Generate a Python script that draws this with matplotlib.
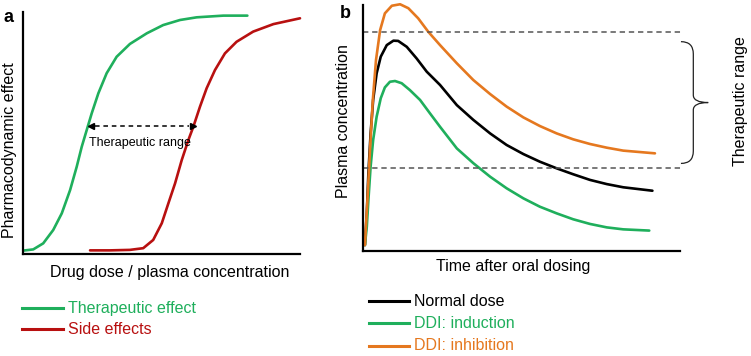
import numpy as np
import matplotlib.pyplot as plt
from matplotlib.path import Path
from matplotlib.patches import PathPatch

plt.rcParams['font.family'] = ['Liberation Sans', 'DejaVu Sans']

# ---------- data ----------

# panel a: dose-response (dose, effect)
green_x = [0.01, 0.37, 0.73, 1.09, 1.40, 1.70, 1.94, 2.12, 2.30, 2.48, 2.72, 3.02, 3.38, 3.86,
           4.47, 5.06, 5.67, 6.27, 7.23, 8.10]
green_y = [0.14, 0.19, 0.44, 0.99, 1.68, 2.64, 3.61, 4.43, 5.12, 5.81, 6.64, 7.47, 8.15, 8.68,
           9.12, 9.46, 9.67, 9.78, 9.85, 9.85]
red_x = [2.42, 3.14, 3.86, 4.34, 4.70, 5.01, 5.25, 5.49, 5.73, 5.97, 6.15, 6.39, 6.63, 6.93,
         7.29, 7.71, 8.31, 9.04, 10.0]
red_y = [0.15, 0.15, 0.17, 0.24, 0.58, 1.27, 2.10, 2.92, 3.88, 4.71, 5.26, 6.09, 6.85, 7.60,
         8.29, 8.77, 9.19, 9.50, 9.74]
range_a = (2.45, 6.14, 5.29)  # x start, x end, y

# panel b: concentration-time
normal_t = [0.06, 0.12, 0.17, 0.24, 0.32, 0.43, 0.56, 0.75, 0.96, 1.11, 1.38, 1.69, 2.01, 2.43,
            2.96, 3.48, 4.01, 4.53, 5.06, 5.58, 6.11, 6.63, 7.16, 7.69, 8.21, 9.13]
normal_c = [0.24, 1.53, 3.16, 4.78, 6.14, 7.22, 7.90, 8.37, 8.55, 8.54, 8.30, 7.83, 7.29, 6.75,
            5.93, 5.33, 4.78, 4.31, 3.94, 3.63, 3.36, 3.12, 2.89, 2.72, 2.59, 2.45]
induct_t = [0.06, 0.12, 0.17, 0.24, 0.32, 0.43, 0.56, 0.69, 0.85, 1.01, 1.22, 1.48, 1.80, 2.11,
            2.43, 2.96, 3.48, 4.01, 4.53, 5.06, 5.58, 6.11, 6.63, 7.16, 7.69, 8.21, 9.03]
induct_c = [0.24, 0.99, 2.07, 3.43, 4.51, 5.46, 6.21, 6.65, 6.88, 6.91, 6.82, 6.54, 6.14, 5.60,
            5.05, 4.17, 3.57, 3.02, 2.55, 2.14, 1.80, 1.53, 1.29, 1.10, 0.96, 0.88, 0.83]
inhib_t = [0.06, 0.14, 0.22, 0.31, 0.41, 0.54, 0.69, 0.91, 1.17, 1.43, 1.74, 2.06, 2.43, 2.96,
           3.48, 4.01, 4.53, 5.06, 5.58, 6.11, 6.63, 7.16, 7.69, 8.21, 9.21]
inhib_c = [0.24, 2.07, 4.11, 6.14, 7.76, 8.98, 9.66, 9.97, 10.03, 9.87, 9.46, 8.91, 8.37, 7.63,
           6.95, 6.38, 5.87, 5.43, 5.08, 4.78, 4.54, 4.35, 4.20, 4.08, 3.97]
ther_low, ther_high = 3.37, 8.90

GREEN = '#1faf5c'
RED = '#b81010'
ORANGE = '#e5781f'
W, H = 751, 356


def fx(x):
    return x / W


def fy(y):
    return 1 - y / H


fig = plt.figure(figsize=(W / 100, H / 100), dpi=100)
line_kw = dict(lw=1.9, clip_on=False, solid_joinstyle='round', solid_capstyle='round')

# ---------- panel a ----------
ax1 = fig.add_axes([fx(23), fy(254), 277 / W, 242 / H])
ax1.plot(green_x, green_y, color=GREEN, **line_kw)
ax1.plot(red_x, red_y, color=RED, **line_kw)
x0, x1, yr = range_a
ax1.plot([x0 + 0.15, x1 - 0.15], [yr, yr], color='black', lw=1.1, ls=(0, (3, 2.5)))
ax1.plot([x0], [yr], marker='<', color='black', ms=4.5)
ax1.plot([x1], [yr], marker='>', color='black', ms=4.5)
ax1.text(x0 - 0.05, yr - 0.7, 'Therapeutic range', fontsize=9, ha='left', va='center')
ax1.set_xlim(0, 10)
ax1.set_ylim(0, 10)

# ---------- panel b ----------
ax2 = fig.add_axes([fx(363), fy(251), 317 / W, 246 / H])
ax2.plot(normal_t, normal_c, color='black', **line_kw)
ax2.plot(induct_t, induct_c, color=GREEN, **line_kw)
ax2.plot(inhib_t, inhib_c, color=ORANGE, **line_kw)
for lev in (ther_low, ther_high):
    ax2.plot([0, 10.06], [lev, lev], color='#555555', lw=1.1, ls=(0, (3.5, 2.5)), clip_on=False)

# curly brace for therapeutic range
bx0, bx1, bx2 = 10.03, 10.42, 10.89
ytop, ybot = 8.51, 3.56
ymid = (ytop + ybot) / 2
verts = [(bx0, ytop), (bx1, ytop), (bx1, ytop - 0.5),
         (bx1, ymid + 0.3), (bx1, ymid), (bx2, ymid),
         (bx1, ymid), (bx1, ymid - 0.3),
         (bx1, ybot + 0.5), (bx1, ybot), (bx0, ybot)]
codes = [Path.MOVETO, Path.CURVE3, Path.CURVE3,
         Path.LINETO, Path.CURVE3, Path.CURVE3,
         Path.CURVE3, Path.CURVE3,
         Path.LINETO, Path.CURVE3, Path.CURVE3]
ax2.add_patch(PathPatch(Path(verts, codes), fill=False, lw=0.9, color='#222222', clip_on=False))
ax2.set_xlim(0, 10)
ax2.set_ylim(0, 10)

for ax in (ax1, ax2):
    for s in ('top', 'right'):
        ax.spines[s].set_visible(False)
    for s in ('left', 'bottom'):
        ax.spines[s].set_linewidth(1.6)
    ax.set_xticks([])
    ax.set_yticks([])
    ax.patch.set_alpha(0)

# ---------- labels ----------
fs = 11.5
fig.text(fx(9), fy(18), 'a', fontsize=13, fontweight='bold', ha='center', va='center')
fig.text(fx(345), fy(13), 'b', fontsize=13, fontweight='bold', ha='center', va='center')
fig.text(fx(10), fy(150), 'Pharmacodynamic effect', fontsize=fs, rotation=90, ha='center', va='center')
fig.text(fx(170), fy(272), 'Drug dose / plasma concentration', fontsize=fs, ha='center', va='center')
fig.text(fx(343), fy(121), 'Plasma concentration', fontsize=fs, rotation=90, ha='center', va='center')
fig.text(fx(513), fy(267), 'Time after oral dosing', fontsize=fs, ha='center', va='center')
fig.text(fx(740), fy(101), 'Therapeutic range', fontsize=fs, rotation=90, ha='center', va='center')

# ---------- legends ----------
leg_a = [('Therapeutic effect', GREEN, 308), ('Side effects', RED, 329)]
for name, col, yy in leg_a:
    fig.add_artist(plt.Line2D([fx(22), fx(63)], [fy(yy), fy(yy)], color=col, lw=2.2))
    fig.text(fx(68), fy(yy), name, color=col, fontsize=fs, ha='left', va='center')

leg_b = [('Normal dose', 'black', 301), ('DDI: induction', GREEN, 323), ('DDI: inhibition', ORANGE, 346)]
for name, col, yy in leg_b:
    fig.add_artist(plt.Line2D([fx(369), fx(409)], [fy(yy), fy(yy)], color=col, lw=2.2))
    fig.text(fx(414), fy(yy), name, color=col, fontsize=fs, ha='left', va='center')

fig.savefig('out.png', dpi=100)
